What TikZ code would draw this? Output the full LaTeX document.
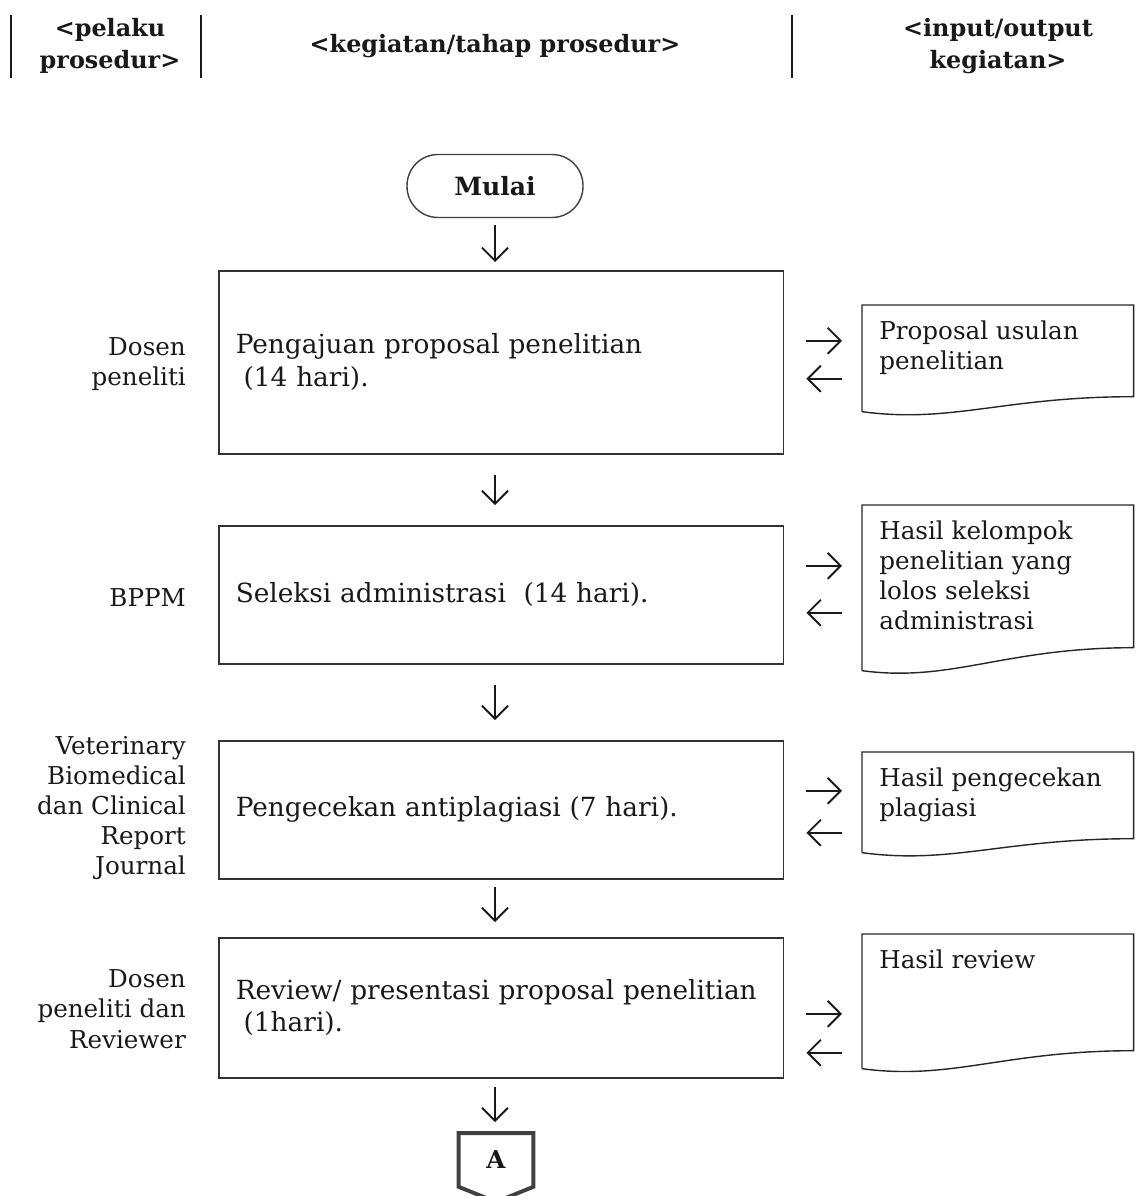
\documentclass[tikz,border=0pt]{standalone}
\usepackage{fontspec}
\setmainfont{DejaVu Serif}
\usetikzlibrary{positioning,calc,arrows.meta}
\newcommand{\bodyfont}{\fontsize{15}{18.5}\selectfont}
\newcommand{\sidefont}{\fontsize{14}{17.2}\selectfont}
\tikzset{proc/.style = {draw=black!80, line width=0.9pt, anchor=north west, minimum width=11.3cm, text width=10.62cm, inner xsep=0.34cm, align=left, font=\bodyfont},
         terminal/.style = {draw=black!75, line width=0.8pt, rounded corners=0.62cm, minimum width=3.52cm, minimum height=1.26cm, font=\fontsize{14.3}{17}\selectfont\bfseries},
         docbox/.style = {anchor=north west, minimum width=5.42cm, inner sep=0pt},
         doctext/.style = {anchor=north west, align=left, inner xsep=0.34cm, inner ysep=0.3cm, font=\sidefont},
         docedge/.style = {draw=black!85, line width=0.8pt},
         actor/.style = {anchor=east, align=right, font=\sidefont},
         head/.style = {align=center, font=\fontsize{13.6}{18}\selectfont\bfseries},
         flow/.style = {-{Straight Barb[length=2.6mm,width=5.2mm]}, line width=1.1pt},
         conn/.style = {minimum width=1.48cm, minimum height=1.06cm, font=\fontsize{14}{17}\selectfont\bfseries}}
\newcommand{\docshape}[2]{%
  \draw[docedge] ($(#1.south west)+(0,#2)$) -- (#1.north west) -- (#1.north east) -- (#1.south east)
    .. controls ($(#1.south east)+(-130,0)$) and ($(#1.south west)+(90,{#2+12})$) .. ($(#1.south west)+(0,#2)$);}

\begin{document}
\begin{tikzpicture}[x=0.02cm, y=-0.02cm, color=black!90]
\useasboundingbox (0,0) rectangle (1136,1196);

\node[head] (hpel) at (110,46) {<pelaku\\prosedur>};
\node[head] (hkeg) at (495,46) {<kegiatan/tahap prosedur>};
\node[head] (hio) at (998,46) {<input/output\\kegiatan>};
\coordinate (s1) at (11,15);
\coordinate (s2) at (201,15);
\coordinate (s3) at (792,15);
\foreach \s in {s1,s2,s3}
    \draw[line width=0.6pt] (\s) -- ++(0,63);

\node[terminal] (start) at (495,186) {Mulai};

\node[proc, minimum height=3.66cm] (b1) at (218,270) {Pengajuan proposal penelitian\\\hspace*{0.3em}(14 hari).};
\node[proc, minimum height=2.76cm] (b2) at (218,525) {Seleksi administrasi\ \ (14 hari).};
\node[proc, minimum height=2.76cm] (b3) at (218,740) {Pengecekan antiplagiasi (7 hari).};
\node[proc, minimum height=2.80cm] (b4) at (218,937) {Review/ presentasi proposal penelitian\\\hspace*{0.3em}(1hari).};

\node[actor] (a1) at (192,364) {Dosen\\peneliti};
\node[actor] (a2) at (192,598) {BPPM};
\node[actor] (a3) at (192,808) {Veterinary\\Biomedical\\dan Clinical\\Report\\Journal};
\node[actor] (a4) at (192,1009) {Dosen\\peneliti dan\\Reviewer};

\node[docbox, minimum height=1.82cm] (d1) at (862,305) {};
\node[docbox, minimum height=2.84cm] (d2) at (862,505) {};
\node[docbox, minimum height=1.72cm] (d3) at (862,752) {};
\node[docbox, minimum height=2.32cm] (d4) at (862,934) {};
\docshape{d1}{15}
\docshape{d2}{23}
\docshape{d3}{14}
\docshape{d4}{18}
\node[doctext] (t1) at (d1.north west) {Proposal usulan\\penelitian};
\node[doctext] (t2) at (d2.north west) {Hasil kelompok\\penelitian yang\\lolos seleksi\\administrasi};
\node[doctext] (t3) at (d3.north west) {Hasil pengecekan\\plagiasi};
\node[doctext] (t4) at (d4.north west) {Hasil review};

\node[conn] (pA) at (496,1160) {A};
\draw[draw=black!75, line width=2.2pt, line join=miter] (pA.north west) -- (pA.north east) -- (pA.south east) -- ($(pA.south)+(0,15)$) -- (pA.south west) -- cycle;

\draw[flow, shorten <=0.14cm, shorten >=0.16cm] (start.south) -- (start.south |- b1.north);
\draw[flow, shorten <=0.4cm, shorten >=0.4cm] (b1.south -| start) -- (b2.north -| start);
\draw[flow, shorten <=0.4cm, shorten >=0.4cm] (b2.south -| start) -- (b3.north -| start);
\draw[flow, shorten <=0.14cm, shorten >=0.3cm] (b3.south -| start) -- (b4.north -| start);
\draw[flow, shorten <=0.16cm, shorten >=0.22cm] (b4.south -| start) -- (pA.north -| start);

\draw[flow, shorten <=0.44cm, shorten >=0.4cm] ([yshift=0.43cm]b1.east) -- ([yshift=0.43cm]b1.east -| d1.west);
\draw[flow, shorten <=0.4cm, shorten >=0.44cm] ([yshift=-0.33cm]b1.east -| d1.west) -- ([yshift=-0.33cm]b1.east);
\draw[flow, shorten <=0.44cm, shorten >=0.4cm] ([yshift=0.58cm]b2.east) -- ([yshift=0.58cm]b2.east -| d2.west);
\draw[flow, shorten <=0.4cm, shorten >=0.44cm] ([yshift=-0.36cm]b2.east -| d2.west) -- ([yshift=-0.36cm]b2.east);
\draw[flow, shorten <=0.44cm, shorten >=0.4cm] ([yshift=0.38cm]b3.east) -- ([yshift=0.38cm]b3.east -| d3.west);
\draw[flow, shorten <=0.4cm, shorten >=0.44cm] ([yshift=-0.46cm]b3.east -| d3.west) -- ([yshift=-0.46cm]b3.east);
\draw[flow, shorten <=0.44cm, shorten >=0.4cm] ([yshift=-0.12cm]b4.east) -- ([yshift=-0.12cm]b4.east -| d4.west);
\draw[flow, shorten <=0.4cm, shorten >=0.44cm] ([yshift=-0.9cm]b4.east -| d4.west) -- ([yshift=-0.9cm]b4.east);
\end{tikzpicture}
\end{document}
